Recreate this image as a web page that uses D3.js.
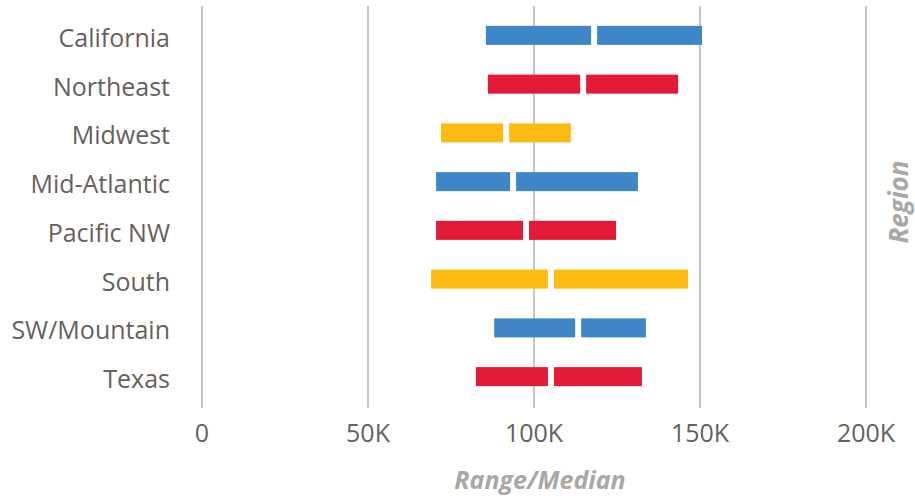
<!DOCTYPE html>
<html>
<head>
<meta charset="utf-8">
<script src="https://cdn.jsdelivr.net/npm/d3@7"></script>
<style>
  html, body { margin: 0; padding: 0; background: #fff; }
  svg { display: block; font-family: "Open Sans", sans-serif; }
</style>
</head>
<body>
<svg id="chart" width="915" height="498"></svg>
<script>
// Salary range by region: low end, median and high end (USD)
const regions = ["California", "Northeast", "Midwest", "Mid-Atlantic", "Pacific NW", "South", "SW/Mountain", "Texas"];
const lows    = [85500, 86100, 72000, 70500, 70500, 69000, 88000, 82500];
const medians = [118100, 114800, 91600, 93700, 97600, 105100, 113300, 105100];
const highs   = [150600, 143400, 111100, 131300, 124700, 146400, 133700, 132500];
const colors  = ["#3e86c8", "#e31a38", "#fdba12", "#3e86c8", "#e31a38", "#fdba12", "#3e86c8", "#e31a38"];
const xTicks  = [0, 50000, 100000, 150000, 200000];
const xTickLabels = ["0", "50K", "100K", "150K", "200K"];

const svg = d3.select("#chart");
const gap = 3; // half the white gap that marks the median

const x = d3.scaleLinear().domain([0, 200000]).range([202, 866]);
const y = d3.scaleBand().domain(regions).range([11, 401]).paddingInner(0.61).paddingOuter(0.305);

// vertical gridlines
svg.append("g").selectAll("line").data(xTicks).join("line")
  .attr("x1", d => x(d)).attr("x2", d => x(d))
  .attr("y1", 6).attr("y2", 408)
  .attr("stroke", "#c9c5c1").attr("stroke-width", 2);

// x tick labels
svg.append("g").selectAll("text").data(xTicks).join("text")
  .attr("x", d => x(d)).attr("y", 442)
  .attr("text-anchor", "middle")
  .attr("font-size", 25)
  .attr("fill", "#66615c")
  .text((d, i) => xTickLabels[i]);

// region labels
svg.append("g").selectAll("text").data(regions).join("text")
  .attr("x", 170)
  .attr("y", d => y(d) + y.bandwidth() / 2)
  .attr("dy", "0.46em")
  .attr("text-anchor", "end")
  .attr("font-size", 25)
  .attr("fill", "#66615c")
  .text(d => d);

// range bars, split at the median
const rows = regions.map((r, i) => ({ r, lo: lows[i], med: medians[i], hi: highs[i], c: colors[i] }));
const bars = svg.append("g");
bars.selectAll("rect.low").data(rows).join("rect")
  .attr("class", "low")
  .attr("x", d => x(d.lo))
  .attr("width", d => x(d.med) - gap - x(d.lo))
  .attr("y", d => y(d.r))
  .attr("height", y.bandwidth())
  .attr("fill", d => d.c);
bars.selectAll("rect.high").data(rows).join("rect")
  .attr("class", "high")
  .attr("x", d => x(d.med) + gap)
  .attr("width", d => x(d.hi) - x(d.med) - gap)
  .attr("y", d => y(d.r))
  .attr("height", y.bandwidth())
  .attr("fill", d => d.c);

// axis titles
svg.append("text")
  .attr("x", 540).attr("y", 489)
  .attr("text-anchor", "middle")
  .attr("font-size", 25).attr("font-weight", 700).attr("font-style", "italic")
  .attr("fill", "#aaa7a4")
  .text("Range/Median");

svg.append("text")
  .attr("transform", "translate(908,202) rotate(-90)")
  .attr("text-anchor", "middle")
  .attr("font-size", 26).attr("font-weight", 700).attr("font-style", "italic")
  .attr("fill", "#aaa7a4")
  .text("Region");
</script>
</body>
</html>
